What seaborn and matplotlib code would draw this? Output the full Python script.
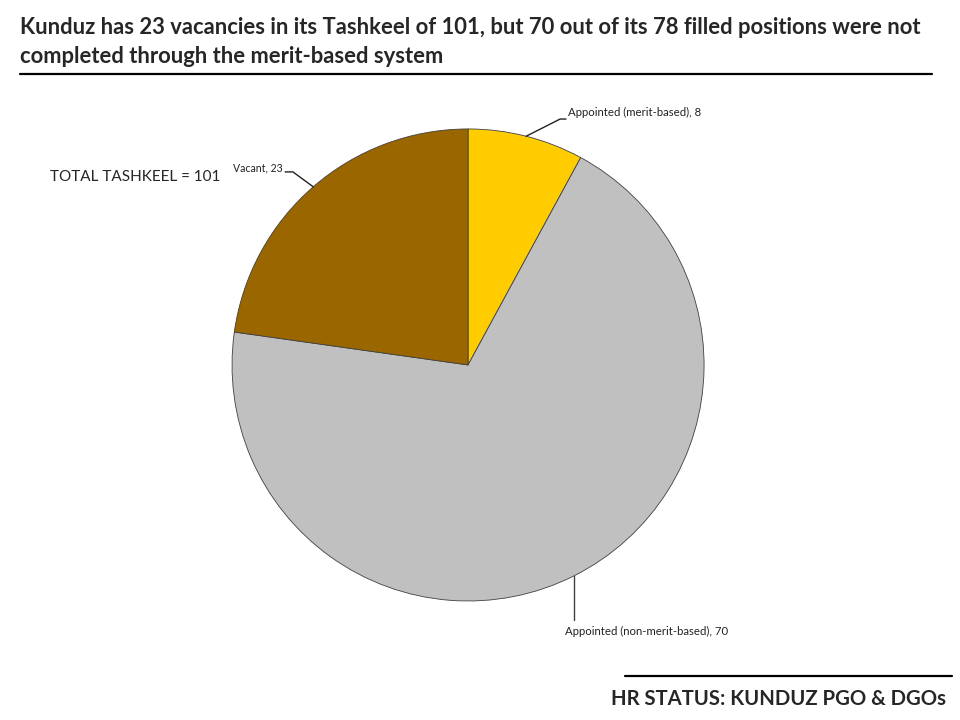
import numpy as np
import matplotlib
matplotlib.use("Agg")
import matplotlib.pyplot as plt
import seaborn as sns

# data
categories = ["Appointed (merit-based)", "Appointed (non-merit-based)", "Vacant"]
counts = [8, 70, 23]
slice_colors = ["#FFCC00", "#C0C0C0", "#996600"]

title = ("Kunduz has 23 vacancies in its Tashkeel of 101, but 70 out of its 78 filled positions were not\n"
         "completed through the merit-based system")
footer = "HR STATUS: KUNDUZ PGO & DGOs"
total_note = "TOTAL TASHKEEL = " + str(sum(counts))

sns.set_style("white")
plt.rcParams["font.family"] = ["Lato", "DejaVu Sans"]

fig = plt.figure(figsize=(9.6, 7.2), dpi=100)
ax = fig.add_axes([0.2417, 0.1653, 0.4917, 0.6556])

wedges, _ = ax.pie(counts, colors=slice_colors, startangle=90, counterclock=False,
                   wedgeprops=dict(edgecolor="#404040", linewidth=0.6))
ax.set_aspect("equal")
ax.set_xlim(-1, 1)
ax.set_ylim(-1, 1)

# label placement: text anchor, elbow of leader line, end of leader line, alignment
label_layout = [
    ((0.425, 1.068), (0.39, 1.042), (0.415, 1.042), "left"),
    ((0.41, -1.13), (0.445, -1.08), None, "left"),
    ((-0.785, 0.835), (-0.742, 0.818), (-0.775, 0.818), "right"),
]
for w, name, n, (tpos, elbow, end, ha) in zip(wedges, categories, counts, label_layout):
    mid = np.deg2rad((w.theta1 + w.theta2) / 2)
    x0, y0 = np.cos(mid), np.sin(mid)
    if end is None:
        ax.plot([x0, x0], [y0, elbow[1]], color="#404040", lw=1.0, clip_on=False)
    else:
        ax.plot([x0, elbow[0], end[0]], [y0, elbow[1], end[1]],
                color="#222222", lw=1.0, clip_on=False)
    fs = 7.6 if name == "Vacant" else 8.2
    ax.text(tpos[0], tpos[1], f"{name}, {n}", ha=ha, va="center",
            fontsize=fs, color="#222222")

fig.text(20 / 960, 1 - 42 / 720, title, ha="left", va="center", fontsize=15.8,
         fontweight="bold", linespacing=1.5)
fig.add_artist(plt.Line2D([20 / 960, 932 / 960], [1 - 74 / 720] * 2, color="black", lw=1.6))

fig.text(50 / 960, 1 - 177 / 720, total_note, ha="left", va="center", fontsize=11)

fig.add_artist(plt.Line2D([625 / 960, 952 / 960], [1 - 676 / 720] * 2, color="black", lw=1.6))
fig.text(946 / 960, 1 - 699 / 720, footer, ha="right", va="center", fontsize=14.6,
         fontweight="bold")

fig.savefig("out.png", dpi=100, facecolor="white")
